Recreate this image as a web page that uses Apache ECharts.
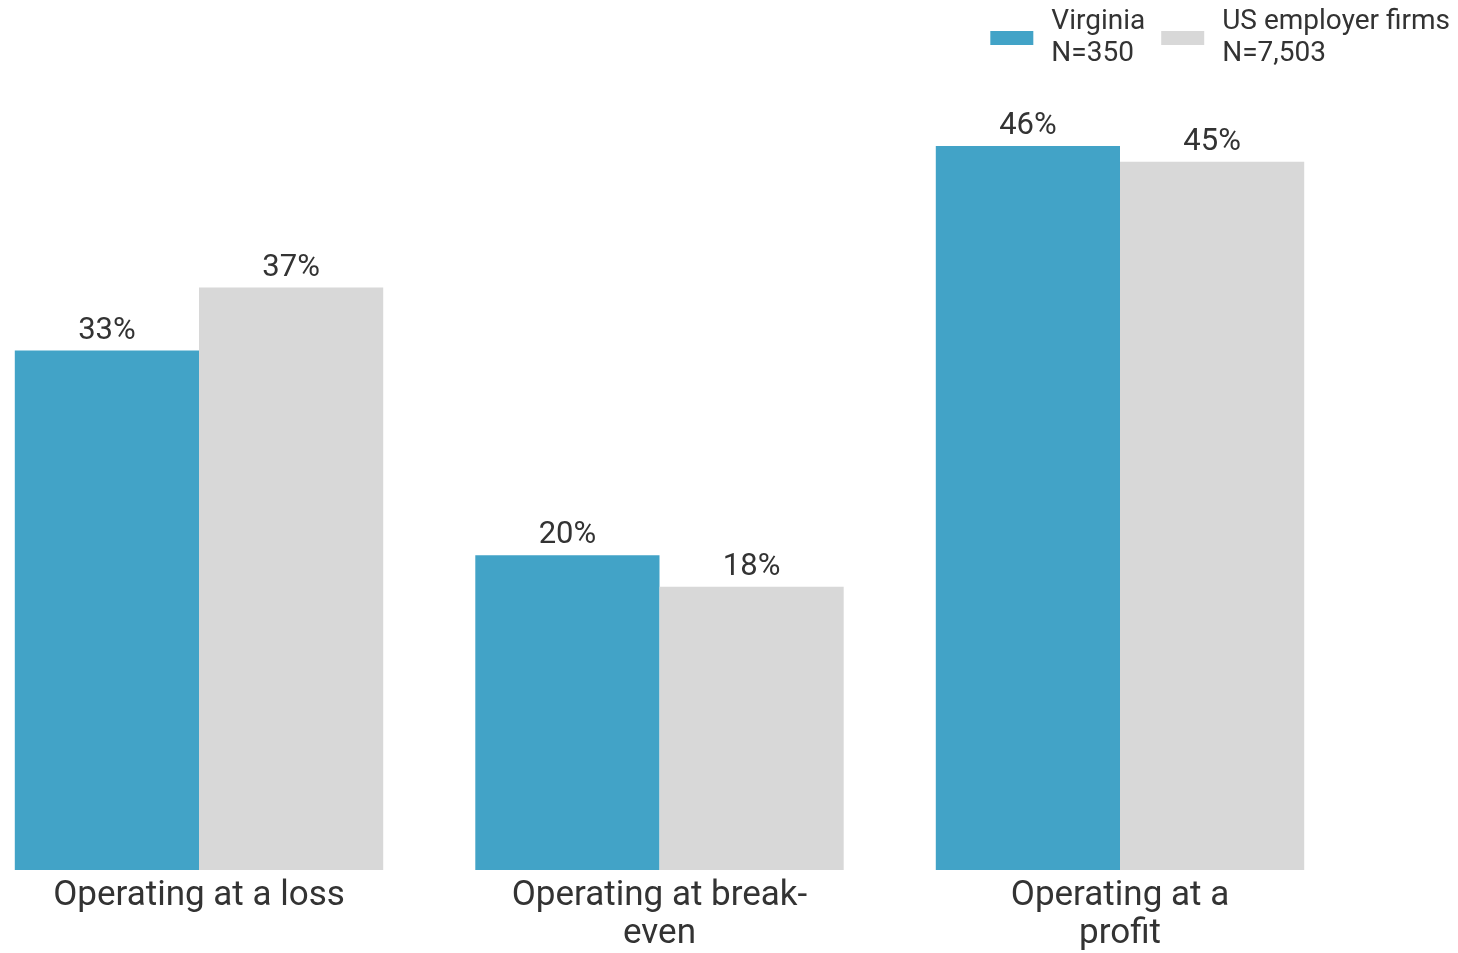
<!DOCTYPE html>
<html>
<head>
<meta charset="utf-8">
<script src="https://cdn.jsdelivr.net/npm/echarts@6/dist/echarts.min.js"></script>
<style>
html,body{margin:0;padding:0;background:#fff;}
#chart{width:1458px;height:953px;}
</style>
</head>
<body>
<div id="chart"></div>
<script>
const categories = ['Operating at a loss', 'Operating at break-\neven', 'Operating at a\nprofit'];
const seriesNames = ['Virginia\nN=350', 'US employer firms\nN=7,503'];
const virginia = [33, 20, 46];
const usFirms = [37, 18, 45];
const colors = ['#42A3C7', '#D8D8D8'];

const chart = echarts.init(document.getElementById('chart'));
const labelStyle = {
  show: true, position: 'top', distance: 4,
  formatter: p => p.value + '%',
  fontFamily: 'Roboto', fontSize: 31, color: '#333'
};
chart.setOption({
  animation: false,
  backgroundColor: '#fff',
  grid: { left: 199, right: 338, top: 83, bottom: 83, containLabel: false },
  legend: {
    right: 3, top: 1,
    itemWidth: 43, itemHeight: 14, itemGap: 16,
    icon: 'rect',
    textStyle: { fontFamily: 'Roboto', fontSize: 28, color: '#333', lineHeight: 32, padding: [0, 0, 0, 13] },
    data: seriesNames
  },
  xAxis: {
    type: 'category', data: categories, boundaryGap: false,
    axisLine: { show: false }, axisTick: { show: false },
    axisLabel: { fontFamily: 'Roboto', fontSize: 35, color: '#333', lineHeight: 38, margin: 7, interval: 0 }
  },
  yAxis: {
    type: 'value', min: 0, max: 50, show: false,
    splitLine: { show: false }
  },
  series: [
    { name: seriesNames[0], type: 'bar', data: virginia, barGap: '0%', barCategoryGap: '20%', clip: false,
      itemStyle: { color: colors[0] }, label: labelStyle },
    { name: seriesNames[1], type: 'bar', data: usFirms, clip: false,
      itemStyle: { color: colors[1] }, label: labelStyle }
  ]
});
</script>
</body>
</html>
